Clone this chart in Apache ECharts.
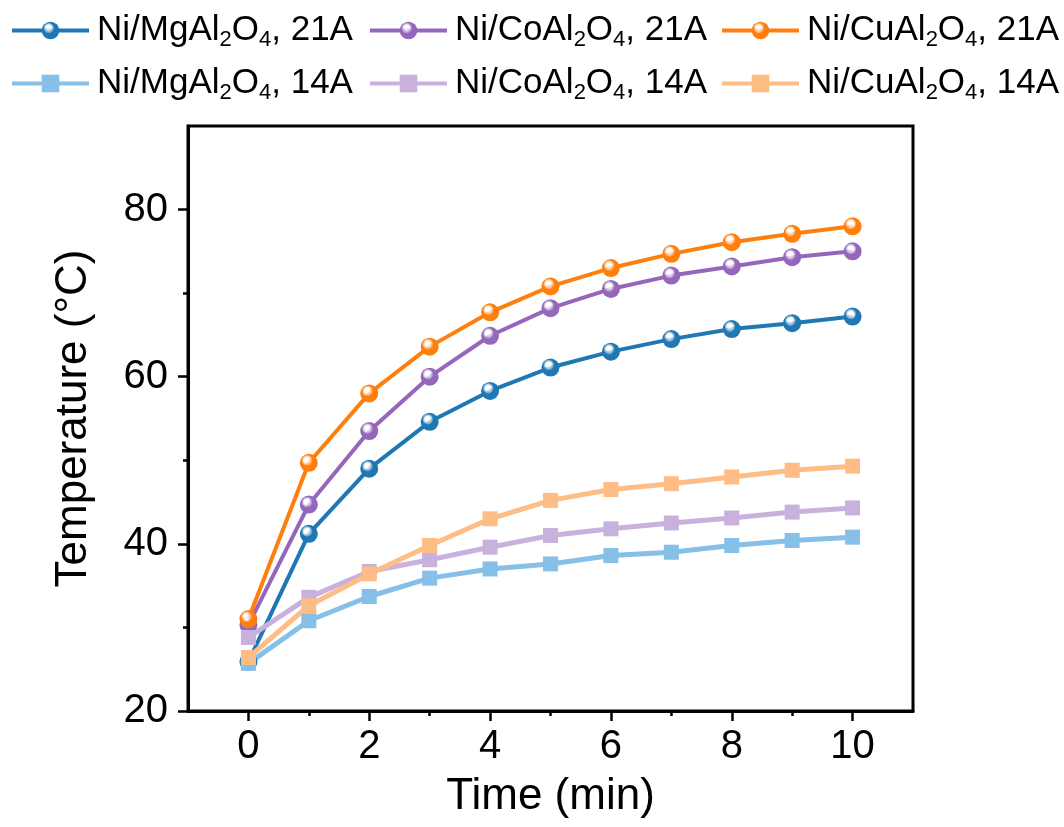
<!DOCTYPE html>
<html>
<head>
<meta charset="utf-8">
<script src="https://cdn.jsdelivr.net/npm/echarts@6/dist/echarts.min.js"></script>
<style>html,body{margin:0;padding:0;background:#fff;}#c{width:1064px;height:827px;}</style>
</head>
<body>
<div id="c"></div>
<script>
const time = [0, 1, 2, 3, 4, 5, 6, 7, 8, 9, 10];
const mg21 = [25.9, 41.2, 49.0, 54.6, 58.3, 61.1, 63.0, 64.5, 65.7, 66.4, 67.2];
const co21 = [30.3, 44.7, 53.5, 60.0, 64.9, 68.2, 70.5, 72.1, 73.2, 74.3, 75.0];
const cu21 = [31.0, 49.7, 58.0, 63.6, 67.7, 70.8, 73.0, 74.7, 76.1, 77.1, 78.0];
const mg14 = [25.7, 30.8, 33.7, 35.9, 37.0, 37.6, 38.6, 39.0, 39.8, 40.4, 40.8];
const co14 = [28.8, 33.6, 36.7, 38.1, 39.6, 41.0, 41.8, 42.5, 43.1, 43.8, 44.3];
const cu14 = [26.4, 32.6, 36.4, 39.8, 43.0, 45.2, 46.5, 47.2, 48.0, 48.8, 49.3];
const names = ['Ni/MgAl2O4, 21A', 'Ni/CoAl2O4, 21A', 'Ni/CuAl2O4, 21A',
               'Ni/MgAl2O4, 14A', 'Ni/CoAl2O4, 14A', 'Ni/CuAl2O4, 14A'];
const xMajor = [0, 2, 4, 6, 8, 10];
const xMinor = [1, 3, 5, 7, 9];
const yMajor = [20, 40, 60, 80];
const yMinor = [30, 50, 70];

const colors = ['#1f77b4', '#9467bd', '#ff7f0e', '#86bfe8', '#c8b1dc', '#fdbd85'];
const values = [mg21, co21, cu21, mg14, co14, cu14];
const FONT = '"Liberation Sans", Arial, Helvetica, sans-serif';

function sphere(c) {
  return {type: 'radial', x: 0.4, y: 0.36, r: 0.62,
    colorStops: [{offset: 0, color: '#ffffff'}, {offset: 0.25, color: '#ffffffaa'}, {offset: 0.5, color: c}, {offset: 1, color: c}]};
}

const series = values.map((v, i) => {
  const is21 = i < 3;
  return {
    name: names[i], type: 'line', xAxisIndex: 0, yAxisIndex: 0,
    data: time.map((t, k) => [t, v[k]]),
    symbol: is21 ? 'circle' : 'rect',
    symbolSize: is21 ? 18 : 15,
    lineStyle: {color: colors[i], width: is21 ? 4 : 5},
    itemStyle: {color: is21 ? sphere(colors[i]) : colors[i], borderWidth: 0},
    emphasis: {disabled: true},
    animation: false
  };
});

const legendPos = [[10, 10], [368, 10], [720, 10], [10, 63], [368, 63], [720, 63]];
const legends = names.map((n, i) => ({
  data: [n], left: legendPos[i][0], top: legendPos[i][1], padding: 0,
  itemWidth: 77, itemHeight: 22, selectedMode: false,
  lineStyle: {width: 4},
  formatter: name => '{g|}{a|' + name.replace('Al2O4', 'Al}{s|2}{a|O}{s|4}{a|') + '}',
  textStyle: {
    rich: {
      g: {width: 3, lineHeight: 40},
      a: {fontSize: 35, fontFamily: FONT, color: '#000', lineHeight: 40},
      s: {fontSize: 22, fontFamily: FONT, color: '#000', lineHeight: 40, padding: [19, 0, 0, 0]}
    }
  }
}));

const gridPos = {left: 188, right: 151, top: 126, bottom: 116};
const axisLineStyle = {color: '#000', width: 3};

const option = {
  backgroundColor: '#fff',
  animation: false,
  legend: legends,
  grid: [
    Object.assign({show: true, borderColor: '#000', borderWidth: 3, backgroundColor: 'transparent'}, gridPos),
    Object.assign({show: false}, gridPos)
  ],
  xAxis: [
    {type: 'value', gridIndex: 0, min: -1, max: 11, interval: 1,
     name: 'Time (min)', nameLocation: 'middle', nameGap: 64,
     nameTextStyle: {fontSize: 44, fontFamily: FONT, color: '#000'},
     axisLine: {show: true, onZero: false, lineStyle: axisLineStyle},
     axisTick: {show: true, inside: false, length: 10, customValues: xMajor, lineStyle: {color: '#000', width: 2.5}},
     axisLabel: {show: true, customValues: xMajor, margin: 16, fontSize: 40, fontFamily: FONT, color: '#000'},
     splitLine: {show: false}},
    {type: 'value', gridIndex: 1, min: -1, max: 11, interval: 1, position: 'bottom',
     axisLine: {show: false, onZero: false},
     axisTick: {show: true, inside: false, length: 5, customValues: xMinor, lineStyle: {color: '#000', width: 2.5}},
     axisLabel: {show: false}, splitLine: {show: false}}
  ],
  yAxis: [
    {type: 'value', gridIndex: 0, min: 20, max: 90, interval: 10,
     name: 'Temperature (°C)', nameLocation: 'middle', nameGap: 92,
     nameTextStyle: {fontSize: 44, fontFamily: FONT, color: '#000'},
     axisLine: {show: true, onZero: false, lineStyle: axisLineStyle},
     axisTick: {show: true, inside: false, length: 10, customValues: yMajor, lineStyle: {color: '#000', width: 2.5}},
     axisLabel: {show: true, customValues: yMajor, margin: 20, fontSize: 40, fontFamily: FONT, color: '#000'},
     splitLine: {show: false}},
    {type: 'value', gridIndex: 1, min: 20, max: 90, interval: 10, position: 'left',
     axisLine: {show: false, onZero: false},
     axisTick: {show: true, inside: false, length: 5, customValues: yMinor, lineStyle: {color: '#000', width: 2.5}},
     axisLabel: {show: false}, splitLine: {show: false}}
  ],
  series: series
};

const chart = echarts.init(document.getElementById('c'), null, {renderer: 'canvas'});
chart.setOption(option);
</script>
</body>
</html>
